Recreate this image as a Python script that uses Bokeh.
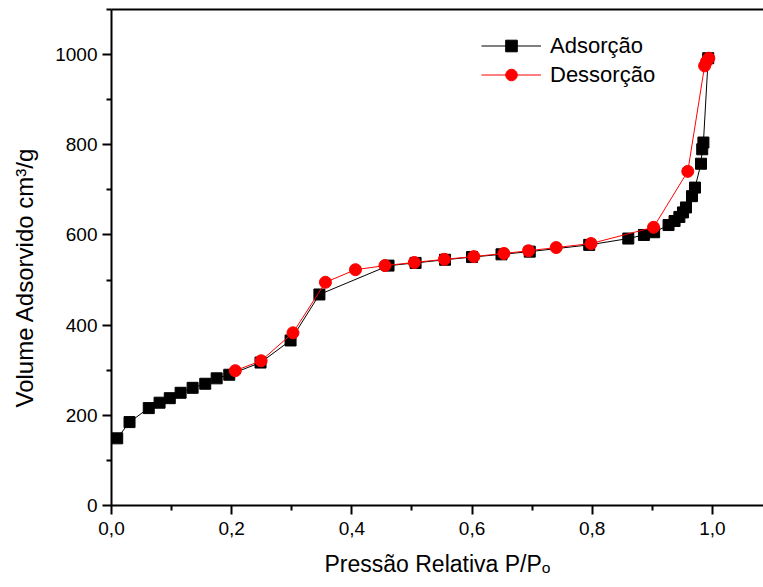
from bokeh.embed import file_html
from bokeh.models import FixedTicker, Legend, LegendItem, LinearAxis, Range1d
from bokeh.plotting import figure
from bokeh.resources import INLINE

# Nitrogen isotherm: relative pressure P/Po vs adsorbed volume (cm3/g)
ads_p = [0.0095, 0.030, 0.062, 0.080, 0.097, 0.115, 0.135, 0.156, 0.175, 0.196,
         0.248, 0.298, 0.346, 0.461, 0.506, 0.555, 0.600, 0.649, 0.696, 0.795,
         0.860, 0.886, 0.903, 0.927, 0.937, 0.945, 0.951, 0.956, 0.966, 0.971,
         0.981, 0.983, 0.985, 0.993]
ads_v = [149, 185, 216, 228, 238, 250, 261, 270, 282, 290,
         317, 366, 468, 532, 538, 545, 551, 557, 563, 578,
         592, 600, 606, 622, 631, 640, 650, 661, 686, 705,
         758, 790, 805, 992]

des_p = [0.994, 0.990, 0.987, 0.959, 0.902, 0.798, 0.740, 0.694, 0.653, 0.603,
         0.554, 0.504, 0.455, 0.406, 0.356, 0.302, 0.249, 0.206]
des_v = [992, 984, 975, 741, 617, 581, 572, 565, 559, 552,
         546, 539, 532, 523, 495, 383, 321, 299]

x_ticks = [0.0, 0.2, 0.4, 0.6, 0.8, 1.0]
x_tick_labels = ["0,0", "0,2", "0,4", "0,6", "0,8", "1,0"]
x_minor = [0.1, 0.3, 0.5, 0.7, 0.9]
y_ticks = [0, 200, 400, 600, 800, 1000]
y_minor = [100, 300, 500, 700, 900, 1100]

FONT = "Liberation Sans"

p = figure(width=763, height=587, output_backend="svg", toolbar_location=None,
           x_range=Range1d(0, 1.085), y_range=Range1d(0, 1100),
           min_border_left=111, min_border_right=0, min_border_top=9,
           min_border_bottom=82)
p.outline_line_color = None
p.xgrid.visible = False
p.ygrid.visible = False
p.background_fill_color = "white"
p.border_fill_color = "white"

# bottom axis
xa = p.xaxis[0]
xa.ticker = FixedTicker(ticks=x_ticks, minor_ticks=x_minor)
xa.major_label_overrides = dict(zip(x_ticks, x_tick_labels))
xa.axis_label = "Pressão Relativa P/P\u2092"
xa.axis_label_standoff = 13

# left axis; the trailing no-break spaces push the title a little below centre
ya = p.yaxis[0]
ya.ticker = FixedTicker(ticks=y_ticks, minor_ticks=y_minor)
ya.axis_label = "Volume Adsorvido cm³/g" + "\u00a0" * 6
ya.axis_label_standoff = 14

for ax in (xa, ya):
    ax.axis_line_color = "black"
    ax.axis_line_width = 2
    ax.major_tick_line_color = "black"
    ax.major_tick_line_width = 2
    ax.minor_tick_line_color = "black"
    ax.minor_tick_line_width = 2
    ax.major_tick_in = 0
    ax.major_tick_out = 9
    ax.minor_tick_in = 0
    ax.minor_tick_out = 5
    ax.major_label_text_font = FONT
    ax.major_label_text_font_size = "19px"
    ax.major_label_text_color = "black"
    ax.axis_label_text_font = FONT
    ax.axis_label_text_font_style = "normal"
    ax.axis_label_text_color = "black"
xa.axis_label_text_font_size = "23px"
ya.axis_label_text_font_size = "24px"
xa.major_label_standoff = 7
ya.major_label_standoff = 5

# plain frame line along the top
top = LinearAxis(ticker=FixedTicker(ticks=[]), major_label_text_font_size="0px",
                 major_tick_out=0, minor_tick_out=0, major_label_standoff=0,
                 axis_line_color="black", axis_line_width=2)
p.add_layout(top, "above")

ads_line = p.line(ads_p, ads_v, line_color="black", line_width=1)
ads_pts = p.scatter(ads_p, ads_v, marker="square", size=11,
                    fill_color="black", line_color="black")
des_line = p.line(des_p, des_v, line_color="#ff0000", line_width=1)
des_pts = p.scatter(des_p, des_v, marker="circle", size=12,
                    fill_color="#ff0000", line_color="#ff0000")

legend = Legend(items=[LegendItem(label="Adsorção", renderers=[ads_line, ads_pts]),
                       LegendItem(label="Dessorção", renderers=[des_line, des_pts])],
                location=(370, 416), padding=0, margin=0, spacing=0,
                glyph_width=60, glyph_height=29, label_height=29,
                label_standoff=9, label_text_font=FONT,
                label_text_font_size="22px", label_text_color="black",
                border_line_alpha=0, background_fill_alpha=0)
p.add_layout(legend)

open("out.html", "w").write(file_html(p, INLINE))
